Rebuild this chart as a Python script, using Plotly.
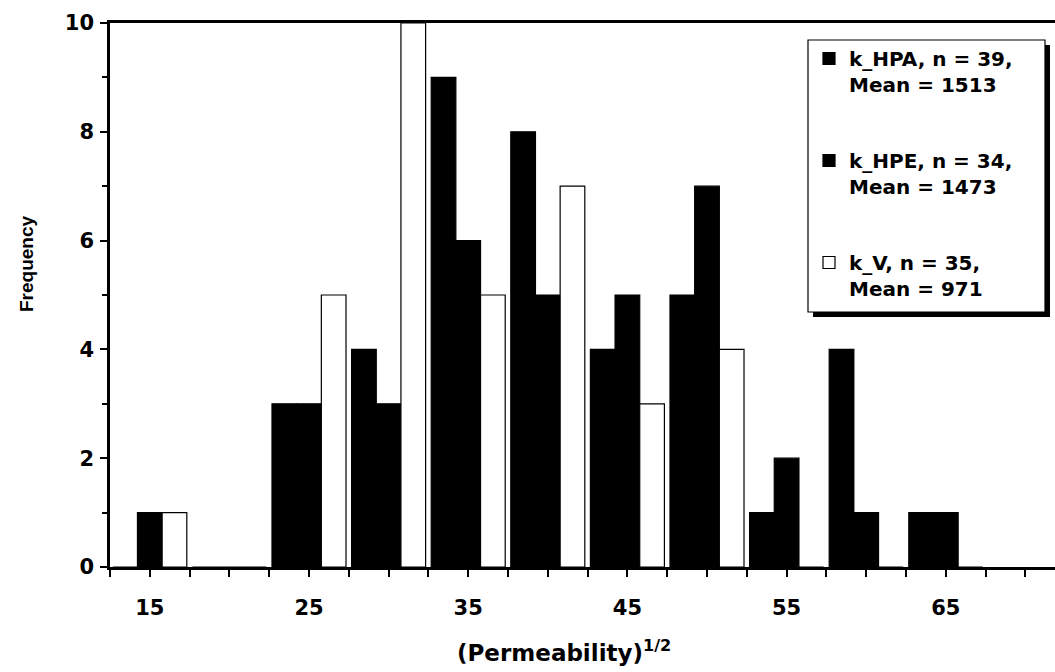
import plotly.graph_objects as go

# ---- data ----
bins = [15, 20, 25, 30, 35, 40, 45, 50, 55, 60, 65]
k_hpa = [0, 0, 3, 4, 9, 8, 4, 5, 1, 4, 1]
k_hpe = [1, 0, 3, 3, 6, 5, 5, 7, 2, 1, 1]
k_v = [1, 0, 5, 10, 5, 7, 3, 4, 0, 0, 0]
series_names = [
    "<b>k_HPA, n = 39,<br>Mean = 1513</b>",
    "<b>k_HPE, n = 34,<br>Mean = 1473</b>",
    "<b>k_V, n = 35,<br>Mean = 971</b>",
]
x_tickvals = [15, 25, 35, 45, 55, 65]
y_tickvals = [0, 2, 4, 6, 8, 10]

FONT = "DejaVu Sans"
FONT2 = "Liberation Sans, Arial, sans-serif"
W, H = 1055, 672
ML, MR, MT, MB = 110, 0, 23, 105
PW, PH = W - ML - MR, H - MT - MB


def px_x(p):
    return (p - ML) / PW


def px_y(p):
    return (H - MB - p) / PH


fig = go.Figure()
styles = [("black", "black"), ("black", "black"), ("white", "black")]
for vals, name, (fc, lc), grp in zip([k_hpa, k_hpe, k_v], series_names, styles, ["a", "b", "c"]):
    fig.add_trace(go.Bar(
        x=bins, y=vals, name=name, legendgroup=grp,
        marker=dict(color=fc, line=dict(color=lc, width=1.2)),
    ))

# legend box with drop shadow
bx0, bx1, by0, by1 = 808, 1045, 40, 312
sh = 5
shapes = [
    dict(type="rect", xref="paper", yref="paper",
         x0=px_x(bx0 + sh), x1=px_x(bx1 + sh), y0=px_y(by1 + sh), y1=px_y(by0 + sh),
         fillcolor="black", line=dict(width=0), layer="above"),
    dict(type="rect", xref="paper", yref="paper",
         x0=px_x(bx0), x1=px_x(bx1), y0=px_y(by1), y1=px_y(by0),
         fillcolor="white", line=dict(color="black", width=1.2), layer="above"),
]

annotations = [
    dict(text="<b>(Permeability)<sup>1/2</sup></b>", xref="paper", yref="paper",
         x=px_x(564), y=px_y(651), xanchor="center", yanchor="middle",
         showarrow=False, font=dict(family=FONT, size=23, color="black")),
    dict(text="<b>Frequency</b>", xref="paper", yref="paper",
         x=px_x(26), y=px_y(264), xanchor="center", yanchor="middle",
         textangle=-90, showarrow=False, font=dict(family=FONT2, size=19, color="black")),
]

fig.update_layout(
    width=W, height=H,
    margin=dict(l=ML, r=MR, t=MT, b=MB, pad=0),
    paper_bgcolor="white", plot_bgcolor="white",
    barmode="group", bargap=0.07, bargroupgap=0,
    font=dict(family=FONT, color="black"),
    shapes=shapes, annotations=annotations,
    legend=dict(
        x=px_x(809), y=px_y(39), xanchor="left", yanchor="top",
        bgcolor="rgba(0,0,0,0)", borderwidth=0,
        font=dict(family=FONT, size=20, color="black"),
        traceorder="grouped", tracegroupgap=47, valign="top",
        itemclick=False, itemdoubleclick=False,
    ),
    showlegend=True,
)

fig.update_xaxes(
    range=[12.5, 12.5 + PW / 15.92],
    tickmode="array", tickvals=x_tickvals,
    ticktext=["<b>%d</b>" % v for v in x_tickvals],
    ticks="outside", ticklen=7, tickwidth=2, tickcolor="black",
    minor=dict(tick0=12.5, dtick=2.5, ticks="outside", ticklen=7, tickwidth=2, tickcolor="black"),
    showline=True, linecolor="black", linewidth=2.5, mirror=True,
    showgrid=False, zeroline=False,
    tickfont=dict(family=FONT, size=21, color="black"),
    ticklabelstandoff=13,
)
fig.update_yaxes(
    range=[0, 10],
    tickmode="array", tickvals=y_tickvals,
    ticktext=["<b>%d</b>" % v for v in y_tickvals],
    ticks="outside", ticklen=7, tickwidth=2, tickcolor="black",
    minor=dict(dtick=1, ticks="outside", ticklen=5, tickwidth=2, tickcolor="black"),
    showline=True, linecolor="black", linewidth=2.5,
    showgrid=False, zeroline=False,
    tickfont=dict(family=FONT, size=21, color="black"),
    ticklabelstandoff=2,
)

fig.write_html("out.html")
